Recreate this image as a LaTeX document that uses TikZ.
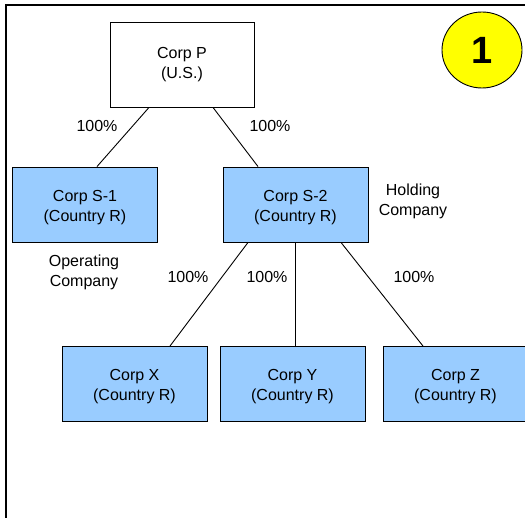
\documentclass[tikz,border=0pt]{standalone}
\usepackage{fontspec}
\usetikzlibrary{shapes.geometric}
\setmainfont{Liberation Sans}
\definecolor{corpblue}{HTML}{99CCFF}
\definecolor{badgeyellow}{HTML}{FFFF00}
\newcommand{\toppad}{\rule{0pt}{17pt}}
\begin{document}
\begin{tikzpicture}[x=1pt,y=-1pt,
  corp/.style={draw=black,line width=0.9pt,minimum width=145pt,minimum height=75pt,
    inner sep=0pt,align=center,font=\fontsize{16}{20}\selectfont},
  sub/.style={corp,fill=corpblue},
  pct/.style={font=\fontsize{16}{20}\selectfont,inner sep=0pt},
  note/.style={font=\fontsize{16}{20}\selectfont,align=center,inner sep=0pt},
  link/.style={draw=black,line width=0.9pt}]
\useasboundingbox (0,0) rectangle (525,518);
% outer frame (only top and left edges fall inside the page)
\draw[line width=2.5pt] (6,518) -- (6,5) -- (525,5);
% parent and subsidiaries
\node[corp,fill=white,minimum width=144pt,minimum height=85pt] (P) at (182,64.5) {Corp P\\(U.S.)};
\node[sub] (S1) at (85,204.5) {\toppad Corp S-1\\(Country R)};
\node[sub] (S2) at (295.5,204.5) {\toppad Corp S-2\\(Country R)};
\node[sub] (X) at (134.5,384) {\toppad Corp X\\(Country R)};
\node[sub] (Y) at (292.5,384) {\toppad Corp Y\\(Country R)};
\node[sub] (Z) at (455.5,384) {\toppad Corp Z\\(Country R)};
% badge
\node[draw=black,line width=0.9pt,fill=badgeyellow,ellipse,minimum width=80pt,minimum height=76pt,
  inner sep=0pt,font=\fontsize{38}{40}\bfseries\selectfont] (badge) at (482,50) {1};
% ownership links
\draw[link] ([xshift=-33pt]P.south) -- ([xshift=12pt]S1.north);
\draw[link] ([xshift=31pt]P.south) -- ([xshift=-37.5pt]S2.north);
\draw[link] ([xshift=-47.5pt]S2.south) -- ([xshift=35.5pt]X.north);
\draw[link] (S2.south) -- (S2.south |- Y.north);
\draw[link] ([xshift=45.5pt]S2.south) -- ([xshift=-32.5pt]Z.north);
% ownership percentages
\node[pct] (p1) at (97,125.5) {100\%};
\node[pct] (p2) at (270,125.5) {100\%};
\node[pct] (p3) at (188,276.5) {100\%};
\node[pct] (p4) at (267,276.5) {100\%};
\node[pct] (p5) at (414,276.5) {100\%};
% role notes
\node[note] (hold) at (413,201.5) {Holding\\Company};
\node[note] (oper) at (84,272.5) {Operating\\Company};
\end{tikzpicture}
\end{document}
